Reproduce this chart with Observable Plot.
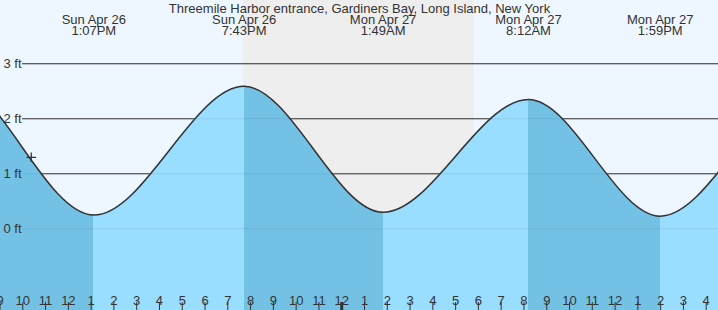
<!DOCTYPE html>
<html>
<head>
<meta charset="utf-8">
<script src="https://cdn.jsdelivr.net/npm/d3@7"></script>
<script src="https://cdn.jsdelivr.net/npm/@observablehq/plot@0.6"></script>
<style>
  html, body { margin: 0; padding: 0; background: #eef7ff; }
</style>
</head>
<body>
<div id="chart"></div>
<script>
// ---- data (hours counted from Sun Apr 26, 00:00) ----
const titleText = "Threemile Harbor entrance, Gardiners Bay, Long Island, New York";

// tide extremes (first two and last two are just outside the visible window)
const tideHours = [0.5, 6.72, 13.117, 19.717, 25.817, 32.2, 37.983, 44.28, 50.6];
const tideFeet  = [0.35, 2.78, 0.25, 2.59, 0.30, 2.35, 0.23, 2.45, 0.30];

// labelled events
const eventHours  = [13.117, 19.717, 25.817, 32.2, 37.983];
const eventDays   = ["Sun Apr 26", "Sun Apr 26", "Mon Apr 27", "Mon Apr 27", "Mon Apr 27"];
const eventClocks = ["1:07PM", "7:43PM", "1:49AM", "8:12AM", "1:59PM"];

// night band (sunset → sunrise)
const nightStart = 19.68;
const nightEnd = 29.83;

// current time marker
const nowHour = 10.37;
const nowFeet = 1.30;

// x axis ticks
const hourTicks = [9,10,11,12,13,14,15,16,17,18,19,20,21,22,23,24,25,26,27,28,29,30,31,32,33,34,35,36,37,38,39,40];
const hourLabels = ["9","10","11","12","1","2","3","4","5","6","7","8","9","10","11","12","1","2","3","4","5","6","7","8","9","10","11","12","1","2","3","4"];
const midnightTicks = [24];

// y axis ticks
const feetTicks = [0, 1, 2, 3];
const feetLabels = ["0 ft", "1 ft", "2 ft", "3 ft"];

// view window
const xDomain = [9.021, 40.54];
const yDomain = [-1.485, 4.15];

// ---- build ----
const tide = tideHours.map((h, i) => ({h, v: tideFeet[i]}));
const events = eventHours.map((h, i) => ({h, label: eventDays[i] + "\n" + eventClocks[i]}));

const ink = "#333333";
const lightWater = "#99ddff";
const darkWater = "#73c2e6";

const chart = Plot.plot({
  width: 718,
  height: 310,
  marginTop: 0, marginBottom: 0, marginLeft: 0, marginRight: 0,
  style: {background: "#eef7ff", fontFamily: "'Liberation Sans', Arial, sans-serif", fontSize: "13px", color: ink},
  x: {type: "linear", domain: xDomain, axis: null},
  y: {type: "linear", domain: yDomain, axis: null},
  marks: [
    Plot.rect([{a: nightStart, b: nightEnd}], {x1: "a", x2: "b", fill: "#eeeeee"}),
    Plot.ruleY(feetTicks, {y: d => d, stroke: ink, strokeWidth: 1, insetLeft: 22}),
    Plot.areaY(tide, {x: "h", y1: yDomain[0], y2: "v", curve: "monotone-x", fill: "url(#tideFill)", clip: true}),
    Plot.ruleY(feetTicks, {y: d => d, stroke: "#000", strokeOpacity: 0.07, strokeWidth: 1, insetLeft: 22}),
    Plot.line(tide, {x: "h", y: "v", curve: "monotone-x", stroke: ink, strokeWidth: 1.5, clip: true}),
    Plot.dot([{h: nowHour, v: nowFeet}], {x: "h", y: "v", symbol: "plus", r: 3.2, stroke: ink, strokeWidth: 1.3}),
    Plot.text(feetTicks, {y: d => d, text: (d, i) => feetLabels[i], frameAnchor: "left", textAnchor: "start", dx: 3, fill: ink}),
    Plot.text([titleText], {text: d => d, frameAnchor: "top", dy: 2.8, fill: ink}),
    Plot.text(events, {x: "h", text: "label", frameAnchor: "top", lineAnchor: "top", lineHeight: 0.9, dy: 14.8, fill: ink}),
    Plot.ruleX(hourTicks, {x: d => d, stroke: ink, strokeWidth: 1, insetTop: 302}),
    Plot.ruleX(midnightTicks, {x: d => d, stroke: ink, strokeWidth: 3, insetTop: 302}),
    Plot.text(hourTicks, {x: d => d, text: (d, i) => hourLabels[i], frameAnchor: "bottom", lineAnchor: "bottom", dy: -6, fill: ink})
  ]
});

// gradient with hard stops: falling tide = dark, rising tide = light
const xs = chart.scale("x");
const W = 718;
const ns = "http://www.w3.org/2000/svg";
const defs = document.createElementNS(ns, "defs");
const grad = document.createElementNS(ns, "linearGradient");
grad.setAttribute("id", "tideFill");
grad.setAttribute("gradientUnits", "userSpaceOnUse");
grad.setAttribute("x1", 0); grad.setAttribute("x2", W);
grad.setAttribute("y1", 0); grad.setAttribute("y2", 0);
const clamp = t => Math.max(0, Math.min(1, t));
for (let i = 0; i < tide.length - 1; i++) {
  const c = tide[i + 1].v < tide[i].v ? darkWater : lightWater;
  const o0 = clamp(xs.apply(tide[i].h) / W);
  const o1 = clamp(xs.apply(tide[i + 1].h) / W);
  for (const o of [o0, o1]) {
    const s = document.createElementNS(ns, "stop");
    s.setAttribute("offset", o);
    s.setAttribute("stop-color", c);
    grad.appendChild(s);
  }
}
defs.appendChild(grad);
chart.insertBefore(defs, chart.firstChild);

document.getElementById("chart").appendChild(chart);
</script>
</body>
</html>
